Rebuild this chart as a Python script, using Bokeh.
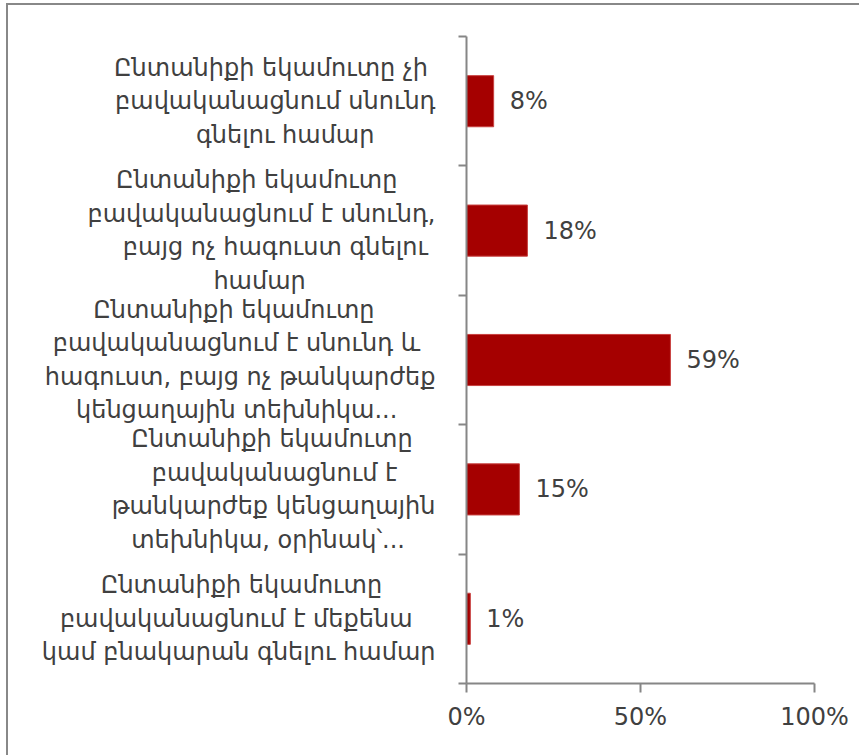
from bokeh.plotting import figure
from bokeh.models import ColumnDataSource, LabelSet, FixedTicker, NumeralTickFormatter, Range1d
from bokeh.core.properties import value
from bokeh.embed import file_html
from bokeh.resources import INLINE

categories = [
    "Ընտանիքի եկամուտը չի\nբավականացնում սնունդ\nգնելու համար",
    "Ընտանիքի եկամուտը\nբավականացնում է սնունդ,\nբայց ոչ հագուստ գնելու\nհամար",
    "Ընտանիքի եկամուտը\nբավականացնում է սնունդ և\nհագուստ, բայց ոչ թանկարժեք\nկենցաղային տեխնիկա...",
    "Ընտանիքի եկամուտը\nբավականացնում է\nթանկարժեք կենցաղային\nտեխնիկա, օրինակ՝...",
    "Ընտանիքի եկամուտը\nբավականացնում է մեքենա\nկամ բնակարան գնելու համար",
]
values = [0.078, 0.175, 0.586, 0.152, 0.011]
x_ticks = [0, 0.5, 1.0]

FONT = "DejaVu Sans"
TXT = "#404040"
AX = "#868686"
FS = 24

n = len(categories)
ypos = [i + 0.5 for i in range(n)]
value_labels = [f"{round(v * 100):.0f}%" for v in values]


# approximate text widths so that the lines of each (right-aligned) label block
# appear centred within the block, as in the original chart
def est_width(s):
    return sum(0.318 if ch in " ,.՝" else 0.657 for ch in s) * FS


def centre_lines(label):
    lines = label.split("\n")
    widths = [est_width(l) for l in lines]
    W = max(widths)
    nb = 0.318 * FS
    out = []
    for l, w in zip(lines, widths):
        k = int(round((W - w) / 2 / nb))
        out.append(l + "\u00a0" * k)
    return "\n".join(out)


display_labels = [centre_lines(c) for c in categories]

src = ColumnDataSource(dict(y=ypos, v=values, lab=value_labels))

p = figure(frame_width=348, frame_height=647,
           min_border_left=458, min_border_top=31, min_border_right=45, min_border_bottom=72,
           x_range=Range1d(0, 1), y_range=Range1d(n, 0),
           output_backend="svg", toolbar_location=None)
p.styles = {"border-left": "2px solid #888888", "border-top": "2px solid #888888",
            "margin-left": "6px", "margin-top": "3px"}
p.outline_line_color = None
p.grid.visible = False
p.background_fill_color = "white"
p.border_fill_color = "white"

p.hbar(y="y", right="v", left=0, height=0.395, source=src,
       fill_color="#A50000", line_color="#C8403F", line_width=1)

p.add_layout(LabelSet(x="v", y="y", text="lab", source=src, x_offset=16,
                      text_baseline="middle", text_align="left",
                      text_font=value(FONT), text_font_size=value(f"{FS}px"), text_color=value(TXT)))

xa = p.xaxis[0]
xa.ticker = FixedTicker(ticks=x_ticks)
xa.formatter = NumeralTickFormatter(format="0%")
xa.minor_tick_line_color = None
xa.major_tick_in = 0
xa.major_tick_out = 9
xa.major_label_standoff = 10
xa.axis_line_color = AX
xa.axis_line_width = 2
xa.major_tick_line_color = AX
xa.major_tick_line_width = 2
xa.major_label_text_font = FONT
xa.major_label_text_font_size = f"{FS}px"
xa.major_label_text_color = TXT

ya = p.yaxis[0]
ya.ticker = FixedTicker(ticks=ypos, minor_ticks=list(range(n + 1)))
ya.major_label_overrides = {y: c for y, c in zip(ypos, display_labels)}
ya.major_tick_line_color = None
ya.major_tick_in = 0
ya.major_tick_out = 0
ya.minor_tick_in = 0
ya.minor_tick_out = 8
ya.minor_tick_line_color = AX
ya.minor_tick_line_width = 2
ya.axis_line_color = AX
ya.axis_line_width = 2
ya.major_label_standoff = 23
ya.major_label_text_font = FONT
ya.major_label_text_font_size = f"{FS}px"
ya.major_label_text_color = TXT
ya.major_label_text_line_height = 1.2

open("out.html", "w").write(file_html(p, INLINE))
